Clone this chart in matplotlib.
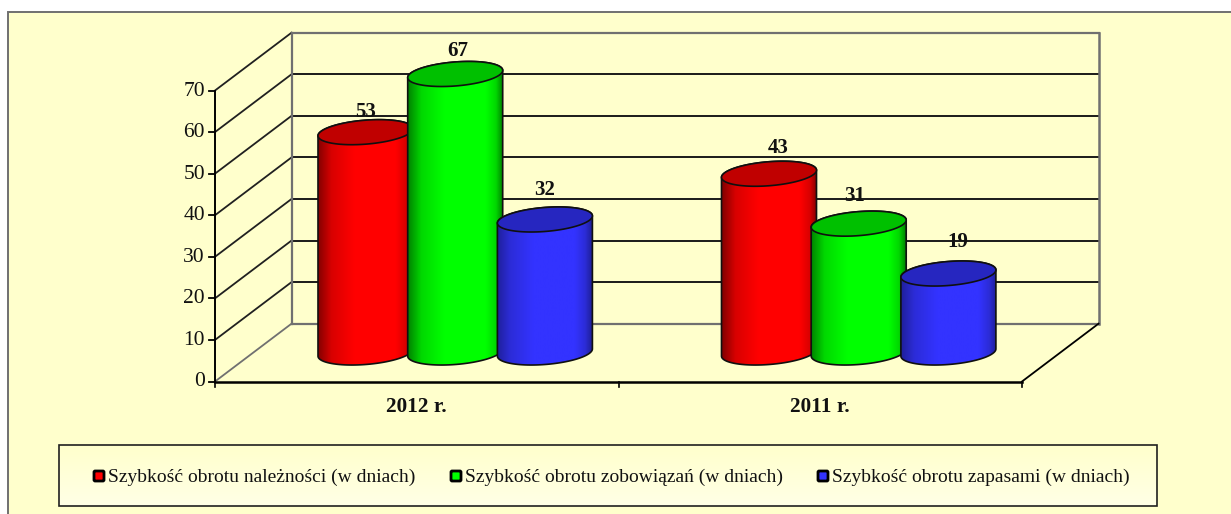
import numpy as np
import matplotlib
matplotlib.use("Agg")
import matplotlib.pyplot as plt
from matplotlib.patches import Polygon, Rectangle, FancyBboxPatch
from matplotlib.colors import LinearSegmentedColormap

plt.rcParams['font.family'] = ['Liberation Serif', 'DejaVu Serif']

categories = ["2012 r.", "2011 r."]
series_names = ["Szybkość obrotu należności (w dniach)",
                "Szybkość obrotu zobowiązań (w dniach)",
                "Szybkość obrotu zapasami (w dniach)"]
naleznosci = [53, 43]
zobowiazania = [67, 31]
zapasy = [32, 19]
y_ticks = [0, 10, 20, 30, 40, 50, 60, 70]

# colours per series: edge shade, middle shade, full colour, top of the cylinder
SHADES = [("#850000", "#d80000", "#ff0000", "#c00000"),
          ("#008500", "#00d800", "#00ff00", "#00c000"),
          ("#20209c", "#2c2cd8", "#3333ff", "#2626c0")]
PANEL = "#ffffcc"
GRID_GREY = "#707070"

# plot geometry in pixels
X0, X1 = 215.0, 1022.0
Y0 = 381.5
PX_PER_UNIT = 4.157
DX, DY = 76.5, -57.8
BAR_W = 95.0
BAR_STEP = 89.7
BAR_START = 103.0
BASE_Y = 352.5
SHEAR, RY = 3.6, 12.0

# where the value labels sit compared with the top of their cylinder
LABEL_OFFSETS = [[(0, -20), (3, -23), (0, -29)],
                 [(9, -26), (-4, -28), (9, -32)]]


def val_y(v):
    return Y0 - v * PX_PER_UNIT


def ellipse(cx, cy, t):
    return cx + BAR_W / 2 * np.cos(t), cy - SHEAR * np.cos(t) + RY * np.sin(t)


def draw_walls(ax):
    for v in y_ticks:
        y = val_y(v)
        colour = GRID_GREY if v == 0 else "#202020"
        ax.plot([X0, X0 + DX], [y, y + DY], color=colour, lw=1.3, zorder=2)
        if v > 0 and v < 70:
            ax.plot([X0 + DX, X1 + DX], [y + DY, y + DY], color="#1a1a1a", lw=1.4, zorder=2)
        else:
            ax.plot([X0 + DX, X1 + DX], [y + DY, y + DY], color=GRID_GREY, lw=1.6, zorder=2)
        ax.plot([X0 - 6, X0], [y, y], color="black", lw=1.3, zorder=3)
        ax.text(X0 - 10, y + 0.5, str(v), ha="right", va="center", fontsize=15.5, color="#111111")
    ax.plot([X0 + DX, X0 + DX], [val_y(0) + DY, val_y(70) + DY], color=GRID_GREY, lw=1.6, zorder=2)
    ax.plot([X1 + DX, X1 + DX], [val_y(0) + DY, val_y(70) + DY], color=GRID_GREY, lw=1.8, zorder=2)
    ax.plot([X1, X1 + DX], [Y0, Y0 + DY], color="black", lw=1.3, zorder=2)
    ax.plot([X0, X0], [val_y(70), Y0], color="black", lw=1.4, zorder=3)
    ax.plot([X0, X1], [Y0, Y0], color="black", lw=1.8, zorder=3)
    for x in np.linspace(X0, X1, len(categories) + 1):
        ax.plot([x, x], [Y0, Y0 + 5], color="black", lw=1.2, zorder=3)


def draw_cylinder(ax, left, value, shades, zorder):
    cx = left + BAR_W / 2
    top_y = BASE_Y - value * PX_PER_UNIT
    bx, by = ellipse(cx, BASE_Y, np.linspace(np.pi, 0, 80))
    tx, ty = ellipse(cx, top_y, np.linspace(0, 2 * np.pi, 160))
    ux, uy = ellipse(cx, top_y, np.linspace(0, -np.pi, 80))
    body = np.vstack([np.column_stack([bx, by]), np.column_stack([ux, uy])])

    ax.add_patch(Polygon(body, closed=True, facecolor="none", edgecolor="#101010", lw=1.2, zorder=zorder + 0.2))

    cmap = LinearSegmentedColormap.from_list("c", [(0, shades[0]), (0.14, shades[1]), (0.38, shades[2]),
                                                   (0.82, shades[2]), (0.93, shades[1]), (1, shades[0])])
    img = ax.imshow(np.linspace(0, 1, 200).reshape(1, -1), cmap=cmap, aspect="auto",
                    extent=(left, left + BAR_W, 400, 0), zorder=zorder)
    img.set_clip_path(Polygon(body, closed=True, transform=ax.transData))

    ax.add_patch(Polygon(np.column_stack([tx, ty]), closed=True, facecolor=shades[3],
                         edgecolor="#101010", lw=1.2, zorder=zorder + 0.3))
    return cx, top_y


def main():
    fig = plt.figure(figsize=(12.31, 5.14), dpi=100, facecolor="white")
    ax = fig.add_axes([0, 0, 1, 1])
    ax.axis("off")

    ax.add_patch(Rectangle((7.5, 11.5), 1300, 600, facecolor=PANEL, edgecolor=GRID_GREY, lw=1.4, zorder=0))
    draw_walls(ax)

    series = [naleznosci, zobowiazania, zapasy]
    group_w = (X1 - X0) / len(categories)
    z = 5
    for g, cat in enumerate(categories):
        for s, values in enumerate(series):
            left = X0 + g * group_w + BAR_START + s * BAR_STEP
            cx, top_y = draw_cylinder(ax, left, values[g], SHADES[s], z)
            z += 1
            off = LABEL_OFFSETS[g][s]
            ax.text(cx + off[0], top_y + off[1], str(values[g]), ha="center", va="center",
                    fontsize=15.0, fontweight="bold", color="#111111", zorder=30)
        ax.text(X0 + (g + 0.5) * group_w, 407.5, cat, ha="center", va="center",
                fontsize=15.3, fontweight="bold", color="#111111")

    # legend box
    grad = np.linspace(0, 1, 60).reshape(-1, 1)
    cmap = LinearSegmentedColormap.from_list("l", [PANEL, "#ffffe6"])
    ax.imshow(grad, cmap=cmap, aspect="auto", extent=(59, 1157, 506, 445), zorder=1)
    ax.add_patch(Rectangle((59, 445), 1098, 61, facecolor="none", edgecolor="#202020", lw=1.2, zorder=2))
    for name, x, shades in zip(series_names, [94, 451, 818], SHADES):
        ax.add_patch(FancyBboxPatch((x, 471), 10, 10, boxstyle="round,pad=0,rounding_size=1.2",
                                    facecolor=shades[2], edgecolor="black", lw=2.0, zorder=3))
        ax.text(x + 14, 477, name, ha="left", va="center", fontsize=14.0, color="#111111", zorder=3)

    ax.set_xlim(0, 1231)
    ax.set_ylim(514, 0)
    fig.savefig("out.png", dpi=100, facecolor="white")


if __name__ == "__main__":
    main()
